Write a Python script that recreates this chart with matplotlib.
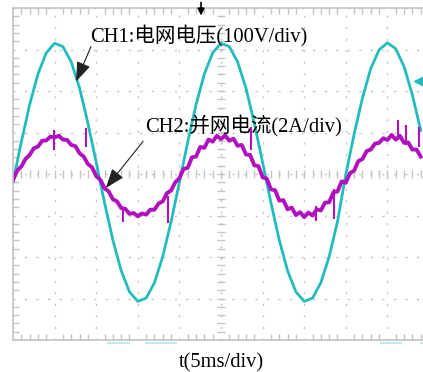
import numpy as np
import matplotlib
matplotlib.use("Agg")
import matplotlib.pyplot as plt

# time axis in divisions (5 ms/div)
t_v = np.arange(0, 9.81, 0.2)
t_i = np.arange(0, 9.81, 0.1)

# CH1 grid voltage, divisions (100 V/div)
ch1 = [-0.20, 0.77, 1.67, 2.41, 2.92, 3.15, 3.07, 2.70, 2.07, 1.23,
       0.28, -0.69, -1.59, -2.33, -2.84, -3.07, -2.99, -2.62, -1.99, -1.15,
       -0.20, 0.77, 1.67, 2.41, 2.92, 3.15, 3.07, 2.70, 2.07, 1.23,
       0.28, -0.69, -1.59, -2.33, -2.84, -3.07, -2.99, -2.62, -1.99, -1.15,
       -0.01, 0.96, 1.83, 2.54, 2.99, 3.16, 3.02, 2.59, 1.91, 1.05]

# CH2 grid current, divisions (2 A/div)
ch2 = [-0.15, 0.08, 0.18, 0.36, 0.46, 0.62, 0.66, 0.80, 0.81, 0.90,
       0.88, 0.92, 0.83, 0.82, 0.70, 0.67, 0.50, 0.42, 0.24, 0.16,
       -0.05, -0.14, -0.34, -0.42, -0.61, -0.66, -0.82, -0.84, -0.96, -0.94,
       -1.02, -0.95, -0.98, -0.86, -0.86, -0.71, -0.66, -0.46, -0.40, -0.20,
       -0.10, 0.12, 0.15, 0.40, 0.42, 0.65, 0.63, 0.83, 0.78, 0.92,
       0.84, 0.93, 0.80, 0.85, 0.68, 0.70, 0.47, 0.46, 0.21, 0.19,
       -0.08, -0.11, -0.37, -0.39, -0.64, -0.63, -0.85, -0.81, -0.99, -0.92,
       -1.04, -0.93, -1.00, -0.85, -0.88, -0.69, -0.68, -0.45, -0.42, -0.18,
       -0.21, 0.02, 0.08, 0.31, 0.36, 0.55, 0.59, 0.73, 0.75, 0.86,
       0.82, 0.94, 0.83, 0.92, 0.75, 0.76, 0.59, 0.59, 0.42]

# switching spikes on CH2
spike_t = [0.99, 1.75, 2.64, 3.73, 5.72, 7.28, 7.72, 9.25, 9.45, 9.76]
spike_lo = [0.58, 0.65, -1.16, -1.18, 0.58, -1.13, -1.08, 0.82, 0.70, 0.65]
spike_hi = [1.06, 1.11, -0.82, -0.53, 1.13, -0.77, -0.36, 1.30, 1.18, 1.13]

# faded remnants of the scope's bottom readout
fade_t0 = [2.26, 3.17, 8.82, 9.78]
fade_t1 = [2.81, 3.94, 9.35, 10.0]

cyan = "#22bcbc"
magenta = "#b010be"
gridc = "#c4c4c4"

fig = plt.figure(figsize=(4.23, 3.72), dpi=100)
ax = fig.add_axes([13/423, 32/372, 416/423, 332/372])
ax.set_xlim(0, 10)
ax.set_ylim(-4, 4)

ax.set_xticks(range(11))
ax.set_yticks(range(-4, 5))
ax.set_xticks(np.arange(0, 10.01, 0.2), minor=True)
ax.set_yticks(np.arange(-4, 4.01, 0.2), minor=True)
ax.tick_params(which="major", length=0, labelbottom=False, labelleft=False)
ax.tick_params(which="minor", direction="in", length=4, width=1, color=gridc,
               top=True, bottom=True, left=True, right=False)
ax.grid(True, which="major", color=gridc, linestyle=(0, (1.5, 6.8)), linewidth=1)
for s in ["left", "bottom", "top"]:
    ax.spines[s].set_color(gridc)
    ax.spines[s].set_linewidth(1.2)
ax.spines["right"].set_visible(False)

# centre cross ticks
ax.plot(np.full(41, 5.0), np.arange(-4, 4.01, 0.2), ls="none", marker="_",
        ms=6, mew=1, color=gridc)
ax.plot(np.arange(0, 10.01, 0.2), np.zeros(51), ls="none", marker="|",
        ms=6, mew=1, color=gridc)

ax.hlines(np.full(len(fade_t0), -4.08), fade_t0, fade_t1, color="#bfe8e8",
          lw=1.5, clip_on=False)

ax.plot(t_v, ch1, color=cyan, lw=2)
ax.plot(t_i, ch2, color=magenta, lw=2.8)
ax.vlines(spike_t, spike_lo, spike_hi, color=magenta, lw=1.5)

# trigger markers
ax.annotate("", xy=(4.52, 3.75), xytext=(4.52, 4.2),
            arrowprops=dict(arrowstyle="-|>", color="black", lw=1.2,
                            mutation_scale=10), annotation_clip=False)
ax.plot([9.76], [2.24], marker="<", ms=7, color=cyan, clip_on=False)

fam = ["Liberation Serif", "Noto Sans CJK SC"]
ax.text(1.85, 3.18, "CH1:电网电压(100V/div)", family=fam, fontsize=14.8,
        ha="left", va="baseline")
ax.text(3.17, 0.99, "CH2:并网电流(2A/div)", family=fam, fontsize=14.8,
        ha="left", va="baseline")
ax.annotate("", xy=(1.49, 2.17), xytext=(1.90, 3.13),
            arrowprops=dict(arrowstyle="-|>,head_length=0.6,head_width=0.22",
                            color="#222222", lw=0.8, mutation_scale=20))
ax.annotate("", xy=(2.19, -0.39), xytext=(3.17, 0.84),
            arrowprops=dict(arrowstyle="-|>,head_length=0.6,head_width=0.22",
                            color="#222222", lw=0.8, mutation_scale=20))

fig.text(221.5/423, 5/372, "t(5ms/div)", family=fam, fontsize=14.8,
         ha="center", va="baseline")

fig.savefig("out.png", dpi=100)
